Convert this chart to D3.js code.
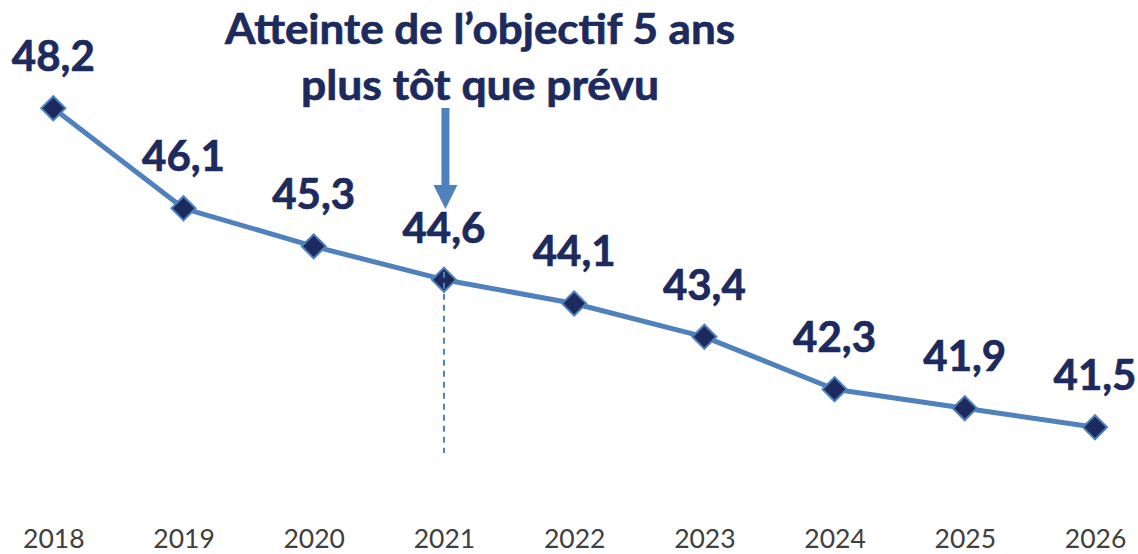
<!DOCTYPE html>
<html>
<head>
<meta charset="utf-8">
<script src="https://cdn.jsdelivr.net/npm/d3@7"></script>
<style>
	html, body { margin: 0; padding: 0; background: #fff; }
	svg { display: block; }
	text { font-family: Lato, "Open Sans", sans-serif; }
</style>
</head>
<body>
<div id="chart"></div>
<script>
const years = ["2018", "2019", "2020", "2021", "2022", "2023", "2024", "2025", "2026"];
const values = [48.2, 46.1, 45.3, 44.6, 44.1, 43.4, 42.3, 41.9, 41.5];
const valueLabels = ["48,2", "46,1", "45,3", "44,6", "44,1", "43,4", "42,3", "41,9", "41,5"];
const titleLines = ["Atteinte de l\u2019objectif 5 ans", "plus tôt que prévu"];
const markedYear = "2021";

const w = 1138;
const h = 554;
const navy = "#1d2a5d";
const blue = "#4f81bd";

const svg = d3.select('#chart')
	.append('svg')
	.attr('width', w)
	.attr('height', h);

const xScale = d3.scalePoint()
	.domain(years)
	.range([53.3, 1095]);

const yScale = d3.scaleLinear()
	.domain([40, 50])
	.range([498.7, 22.6]);

const data = years.map((year, i) => ({ year, value: values[i], label: valueLabels[i] }));

// x axis: labels only
const xAxis = d3.axisBottom(xScale).tickSize(0);
const xg = svg.append('g')
	.attr('transform', 'translate(0, 548)')
	.call(xAxis);
xg.select('.domain').remove();
xg.selectAll('text')
	.attr('y', 0)
	.attr('dy', 0)
	.attr('fill', '#404040')
	.style('font-size', '26.5px')
	.style('font-family', 'Lato, "Open Sans", sans-serif');

// line
svg.append('path')
	.datum(data)
	.attr('fill', 'none')
	.attr('stroke', blue)
	.attr('stroke-width', 5)
	.attr('stroke-linejoin', 'round')
	.attr('d', d3.line()
		.x(d => xScale(d.year))
		.y(d => yScale(d.value)));

// markers
const diamond = d3.symbol().type(d3.symbolSquare).size(290);
svg.selectAll('.marker')
	.data(data)
	.enter()
	.append('path')
	.attr('class', 'marker')
	.attr('d', diamond)
	.attr('transform', d => `translate(${xScale(d.year)}, ${yScale(d.value)}) rotate(45)`)
	.attr('fill', navy)
	.attr('stroke', blue)
	.attr('stroke-width', 2);

// dashed guide at the marked year
const markedValue = values[years.indexOf(markedYear)];
svg.append('line')
	.attr('x1', xScale(markedYear))
	.attr('x2', xScale(markedYear))
	.attr('y1', yScale(markedValue) - 8)
	.attr('y2', 453)
	.attr('stroke', blue)
	.attr('stroke-width', 2)
	.attr('stroke-dasharray', '6 5');

// value labels
svg.selectAll('.value-label')
	.data(data)
	.enter()
	.append('text')
	.attr('class', 'value-label')
	.attr('x', d => xScale(d.year))
	.attr('y', d => yScale(d.value) - 37)
	.attr('text-anchor', 'middle')
	.attr('fill', navy)
	.attr('stroke', navy)
	.attr('stroke-width', 0.7)
	.style('font-size', '42px')
	.style('font-weight', 'bold')
	.text(d => d.label);

// title
const titleX = 480;
const titleWidths = [510, 358];
const titleBaselines = [44, 100];
titleLines.forEach((line, i) => {
	svg.append('text')
		.attr('x', titleX)
		.attr('y', titleBaselines[i])
		.attr('text-anchor', 'middle')
		.attr('fill', navy)
		.attr('stroke', navy)
		.attr('stroke-width', 0.7)
		.attr('textLength', titleWidths[i])
		.attr('lengthAdjust', 'spacingAndGlyphs')
		.style('font-size', '42px')
		.style('font-weight', 'bold')
		.text(line);
});

// arrow pointing at the marked year
const ax = xScale(markedYear) + 1.5;
svg.append('rect')
	.attr('x', ax - 4)
	.attr('y', 108)
	.attr('width', 8)
	.attr('height', 79)
	.attr('fill', blue);
svg.append('path')
	.attr('d', `M${ax - 12},185 L${ax + 12},185 L${ax},209 Z`)
	.attr('fill', blue);
</script>
</body>
</html>
